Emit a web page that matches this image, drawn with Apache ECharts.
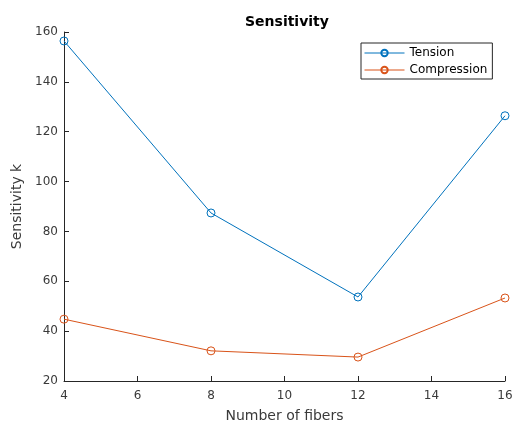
<!DOCTYPE html>
<html><head><meta charset="utf-8">
<script src="https://cdn.jsdelivr.net/npm/echarts@6/dist/echarts.min.js"></script>
<style>html,body{margin:0;padding:0;background:#fff}#c{width:512px;height:425px}</style>
</head><body><div id="c"></div>
<script>
const fibers = [4, 8, 12, 16];
const tension = [156.4, 87.4, 53.7, 126.4];
const compression = [44.8, 32.1, 29.6, 53.3];
const xTicks = [4, 6, 8, 10, 12, 14, 16];
const yTicks = [20, 40, 60, 80, 100, 120, 140, 160];

const chart = echarts.init(document.getElementById('c'));
const font = 'DejaVu Sans';
const axisCol = '#262626';
const labelCol = '#3a3a3a';
const blue = '#0072BD', orange = '#D95319';
chart.setOption({
  animation: false,
  backgroundColor: '#fff',
  title: {text: 'Sensitivity', left: 240, top: 10,
    textStyle: {fontFamily: font, fontSize: 14, fontWeight: 'bold', color: '#000'}},
  grid: {left: 64, right: 7, top: 32, bottom: 44, outerBoundsMode: 'none'},
  legend: {
    orient: 'vertical', left: 361, top: 43, padding: [4, 5, 3, 3], itemGap: 5,
    borderColor: axisCol, borderWidth: 1, itemWidth: 40, itemHeight: 8,
    lineStyle: {width: 1},
    textStyle: {fontFamily: font, fontSize: 12, color: '#000'},
    data: ['Tension', 'Compression']
  },
  xAxis: {
    type: 'value', min: xTicks[0], max: xTicks[xTicks.length-1], interval: 2,
    name: 'Number of fibers', nameLocation: 'middle', nameGap: 28,
    nameTextStyle: {fontFamily: font, fontSize: 14, color: labelCol},
    axisLine: {lineStyle: {color: axisCol, width: 1}},
    axisTick: {inside: true, length: 5, lineStyle: {color: axisCol}},
    axisLabel: {fontFamily: font, fontSize: 12, color: labelCol, margin: 9},
    splitLine: {show: false}
  },
  yAxis: {
    type: 'value', min: yTicks[0], max: yTicks[yTicks.length-1], interval: 20,
    name: 'Sensitivity k', nameLocation: 'middle', nameGap: 35, nameRotate: 90,
    nameTextStyle: {fontFamily: font, fontSize: 14, color: labelCol},
    axisLine: {show: true, lineStyle: {color: axisCol, width: 1}},
    axisTick: {show: true, inside: true, length: 5, lineStyle: {color: axisCol}},
    axisLabel: {fontFamily: font, fontSize: 12, color: labelCol, margin: 6},
    splitLine: {show: false}
  },
  series: [
    {name: 'Tension', type: 'line', data: fibers.map((f, i) => [f, tension[i]]),
     symbol: 'circle', symbolSize: 8, color: blue,
     lineStyle: {width: 1, color: blue},
     itemStyle: {color: 'rgba(255,255,255,0)', borderColor: blue, borderWidth: 1}},
    {name: 'Compression', type: 'line', data: fibers.map((f, i) => [f, compression[i]]),
     symbol: 'circle', symbolSize: 8, color: orange,
     lineStyle: {width: 1, color: orange},
     itemStyle: {color: 'rgba(255,255,255,0)', borderColor: orange, borderWidth: 1}}
  ]
});
</script></body></html>
